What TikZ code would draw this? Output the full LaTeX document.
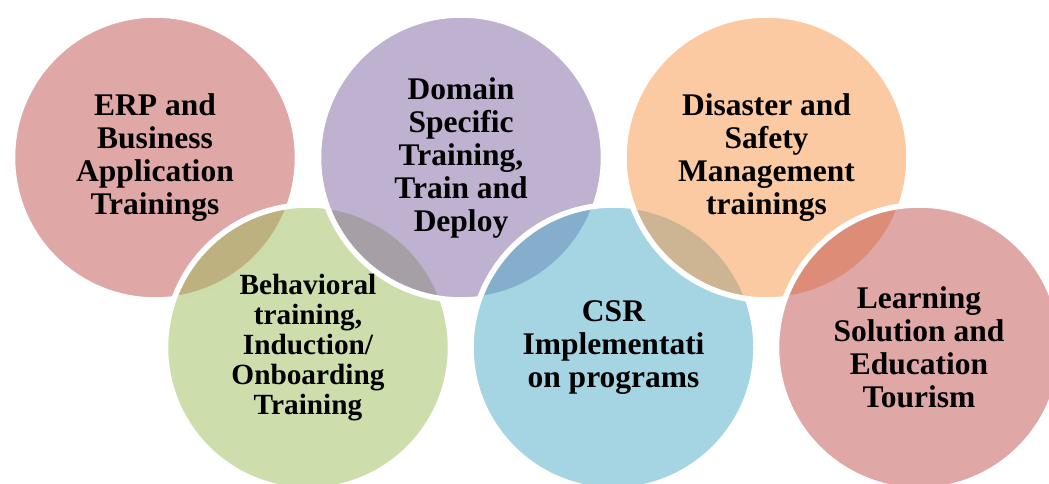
\documentclass[tikz,border=0pt]{standalone}
\usepackage{fontspec}
\setmainfont{Liberation Serif}
\definecolor{cRed}{HTML}{C0504D}
\definecolor{cPurple}{HTML}{8064A2}
\definecolor{cOrange}{HTML}{F79646}
\definecolor{cGreen}{HTML}{9BBB59}
\definecolor{cBlue}{HTML}{4BACC6}
\tikzset{
  bubble/.style={circle, minimum size=285pt, inner sep=0pt, fill opacity=0.5, draw=white, draw opacity=1, line width=5.5pt},
  label/.style={align=center, text=black, font={\fontsize{31.5}{33}\selectfont\bfseries}},
  smalllabel/.style={align=center, text=black, font={\fontsize{29.3}{30}\selectfont\bfseries}}
}
\begin{document}
\begin{tikzpicture}[x=1pt,y=-1pt]
\useasboundingbox (0,0) rectangle (1049,484);
\clip (0,0) rectangle (1049,484);
% circles in drawing order, alternating top and bottom row
\node[bubble, fill=cRed] (erp) at (155,157.5) {};
\node[bubble, fill=cGreen] (beh) at (308,347.5) {};
\node[bubble, fill=cPurple] (dom) at (461,157.5) {};
\node[bubble, fill=cBlue] (csr) at (613.5,347.5) {};
\node[bubble, fill=cOrange] (dis) at (766.5,157.5) {};
\node[bubble, fill=cRed] (lrn) at (919,347.5) {};
% labels
\node[label] (terp) at (erp.center) {ERP and\\Business\\Application\\Trainings};
\node[label] (tdom) at (dom.center) {Domain\\Specific\\Training,\\Train and\\Deploy};
\node[label] (tdis) at (dis.center) {Disaster and\\Safety\\Management\\trainings};
\node[smalllabel] (tbeh) at (beh.center) {Behavioral\\training,\\Induction/\\Onboarding\\Training};
\node[label] (tcsr) at (csr.center) {CSR\\Implementati\\on programs};
\node[label] (tlrn) at (lrn.center) {Learning\\Solution and\\Education\\Tourism};
\end{tikzpicture}
\end{document}
